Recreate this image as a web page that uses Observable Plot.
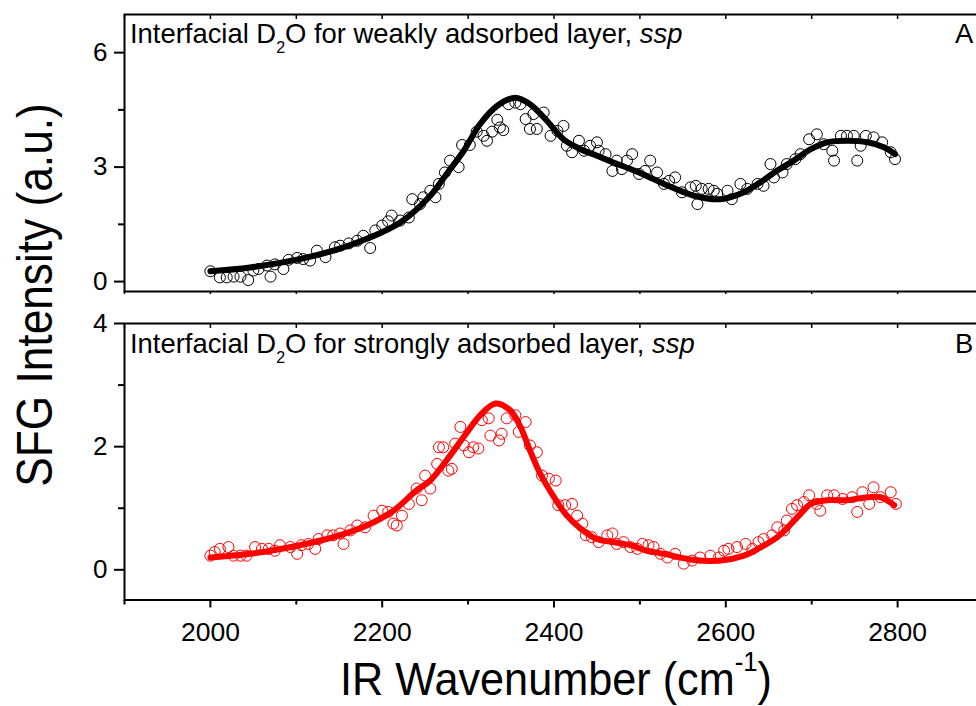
<!DOCTYPE html>
<html><head><meta charset="utf-8">
<script src="https://cdn.jsdelivr.net/npm/d3@7"></script>
<script src="https://cdn.jsdelivr.net/npm/@observablehq/plot@0.6"></script>
<style>
html,body{margin:0;padding:0;background:#fff;overflow:hidden;}
#wrap{position:relative;width:976px;height:706px;overflow:hidden;background:#fff;}
#wrap svg{position:absolute;left:0;max-width:none !important;}
</style></head><body><div id="wrap"></div>
<script>
// ---------- data ----------
const xMajor = [2000, 2200, 2400, 2600, 2800];
const xMinor = [1900, 2100, 2300, 2500, 2700, 2900];
const yTopMajor = [0, 3, 6];
const yTopMinor = [1.5, 4.5];
const yBotMajor = [0, 2, 4];
const yBotMinor = [1, 3];

// Panel A (weakly adsorbed) measured points
const aX = [2000,2011,2019,2027,2035,2044,2050,2056,2066,2070,2075,2085,2091,2101,2108,2116,2124,2134,2145,2151,2161,2171,2178,2186,2192,2200,2207,2211,2221,2231,2235,2244,2248,2256,2262,2266,2273,2279,2289,2293,2302,2310,2318,2322,2328,2334,2337,2341,2347,2355,2361,2367,2372,2376,2380,2388,2396,2404,2411,2415,2421,2429,2435,2442,2450,2452,2460,2468,2473,2479,2485,2491,2499,2506,2512,2520,2528,2534,2541,2549,2559,2565,2567,2572,2580,2586,2590,2602,2607,2617,2625,2637,2644,2652,2656,2666,2671,2681,2687,2697,2706,2714,2724,2726,2734,2741,2749,2753,2757,2763,2772,2782,2792,2797];
const aY = [0.27,0.11,0.11,0.13,0.13,0.04,0.29,0.33,0.42,0.13,0.45,0.33,0.57,0.62,0.59,0.55,0.81,0.64,0.90,0.94,1.00,1.07,1.20,0.88,1.34,1.47,1.58,1.73,1.60,1.68,2.16,2.03,2.21,2.38,2.21,2.56,2.86,3.17,3.00,3.58,3.58,3.93,3.82,3.69,3.93,4.24,4.04,3.97,4.65,4.69,4.65,4.26,4.00,4.39,4.00,4.43,3.82,3.95,4.08,3.56,3.39,3.69,3.43,3.56,3.65,3.43,3.34,2.90,3.17,2.95,3.17,3.34,2.82,2.90,3.17,2.86,2.56,2.64,2.73,2.34,2.47,2.51,2.03,2.43,2.43,2.38,2.30,2.38,2.16,2.56,2.43,2.56,2.51,3.08,2.73,2.86,3.08,3.21,3.34,3.73,3.86,3.60,3.43,3.17,3.82,3.82,3.82,3.17,3.56,3.82,3.78,3.65,3.39,3.21];
// Panel A fit curve
const aFitX = [2000,2046,2104,2143,2182,2221,2256,2275,2295,2314,2334,2355,2372,2392,2411,2431,2450,2469,2489,2508,2528,2563,2594,2621,2640,2660,2679,2699,2718,2741,2765,2784,2797];
const aFitY = [0.27,0.37,0.59,0.81,1.12,1.55,2.25,2.82,3.43,4.13,4.61,4.82,4.65,4.21,3.73,3.47,3.30,3.12,2.95,2.77,2.56,2.25,2.16,2.34,2.60,2.91,3.17,3.47,3.65,3.69,3.65,3.52,3.34];

// Panel B (strongly adsorbed) measured points
const bX = [2000,2005,2011,2021,2027,2035,2042,2052,2060,2068,2075,2081,2093,2101,2106,2114,2122,2126,2136,2143,2151,2155,2163,2171,2180,2190,2200,2207,2213,2217,2223,2231,2240,2246,2250,2256,2264,2266,2271,2277,2281,2285,2291,2295,2301,2306,2312,2316,2324,2326,2336,2339,2345,2355,2359,2367,2372,2380,2386,2394,2402,2405,2413,2421,2427,2433,2437,2444,2452,2462,2468,2473,2481,2489,2497,2503,2510,2516,2524,2532,2541,2551,2561,2570,2582,2592,2598,2603,2613,2623,2631,2638,2644,2654,2660,2668,2671,2677,2683,2691,2697,2706,2710,2718,2726,2736,2747,2753,2759,2767,2772,2780,2792,2798];
const bY = [0.23,0.29,0.34,0.37,0.23,0.23,0.23,0.37,0.34,0.34,0.31,0.40,0.37,0.26,0.40,0.42,0.34,0.50,0.56,0.56,0.59,0.42,0.64,0.72,0.69,0.88,0.96,0.94,0.75,0.72,0.88,1.07,1.32,1.13,1.53,1.32,1.72,1.99,1.99,1.61,1.64,2.05,2.32,2.02,1.91,1.99,1.97,2.43,2.46,2.18,2.10,2.21,2.46,2.51,2.24,2.40,2.02,1.91,1.53,1.48,1.45,1.05,1.05,1.07,0.88,0.75,0.56,0.53,0.45,0.56,0.59,0.42,0.45,0.37,0.34,0.42,0.40,0.37,0.26,0.20,0.26,0.10,0.15,0.20,0.23,0.20,0.31,0.34,0.37,0.42,0.34,0.45,0.50,0.56,0.69,0.64,0.80,0.99,1.05,1.10,1.21,1.07,0.96,1.21,1.21,1.15,1.18,0.94,1.26,1.07,1.34,1.18,1.26,1.07];
// Panel B fit curve
const bFitX = [2000,2046,2104,2143,2182,2213,2240,2256,2275,2295,2314,2332,2349,2361,2372,2384,2400,2415,2431,2450,2469,2489,2508,2528,2563,2594,2621,2640,2660,2671,2687,2699,2718,2741,2765,2780,2796];
const bFitY = [0.20,0.26,0.40,0.53,0.72,0.96,1.29,1.45,1.78,2.16,2.51,2.70,2.59,2.32,1.94,1.56,1.18,0.88,0.67,0.50,0.45,0.40,0.31,0.26,0.16,0.15,0.23,0.36,0.53,0.67,0.91,1.07,1.13,1.13,1.18,1.18,1.05];

// Text
const panelTextA = ["Interfacial D", "2", "O for weakly adsorbed layer, ", "ssp"];
const panelTextB = ["Interfacial D", "2", "O for strongly adsorbed layer, ", "ssp"];
const panelLetters = ["A", "B"];
const yTitle = "SFG Intensity (a.u.)";
const xTitleParts = ["IR Wavenumber (cm", "-1", ")"];

// ---------- build ----------
const zip = (xs, ys) => xs.map((x, i) => ({x, y: ys[i]}));
const font = "'Liberation Sans', Arial, sans-serif";
const fmt = d => String(d);
const wrap = document.getElementById("wrap");

function panel({pts, fit, color, yDomain, yMajor, yMinor, height, marginTop, marginBottom, bottomAxis}) {
  const marks = [
    Plot.axisY({ticks: yMajor, tickSize: 10, tickPadding: 7, tickFormat: fmt, label: null, strokeWidth: 2, fontSize: 26}),
    Plot.axisY({ticks: yMinor, tickSize: 6, text: null, label: null, strokeWidth: 2}),
    Plot.axisX({anchor: "top", ticks: xMajor.concat(xMinor), tickSize: -4, text: null, label: null, strokeWidth: 1.5}),
    Plot.dot(pts, {x: "x", y: "y", r: 5.5, stroke: color, strokeWidth: 1, fill: "none"}),
    Plot.line(fit, {x: "x", y: "y", stroke: color, strokeWidth: 6, curve: "catmull-rom"}),
    Plot.frame({stroke: "black", strokeWidth: 2})
  ];
  if (bottomAxis) {
    marks.push(Plot.axisX({ticks: xMajor, tickSize: 8, tickPadding: 14, tickFormat: fmt, label: null, strokeWidth: 2, fontSize: 26.5}));
    marks.push(Plot.axisX({ticks: xMinor, tickSize: 5, text: null, label: null, strokeWidth: 2}));
  } else {
    marks.push(Plot.axisX({ticks: xMajor.concat(xMinor), tickSize: 3, text: null, label: null, strokeWidth: 1.5}));
  }
  const svg = Plot.plot({
    width: 1000, height, marginTop, marginBottom, marginLeft: 124, marginRight: 17,
    x: {domain: [1900, 2900]},
    y: {domain: yDomain},
    style: {fontFamily: font, fontSize: "25px", color: "black", background: "transparent", overflow: "visible", maxWidth: "none"},
    marks
  });
  svg.style.maxWidth = "none";
  svg.style.width = "1000px";
  svg.style.height = height + "px";
  return svg;
}

const pA = panel({pts: zip(aX, aY), fit: zip(aFitX, aFitY), color: "black", yDomain: [-0.26, 7.0],
  yMajor: yTopMajor, yMinor: yTopMinor, height: 300, marginTop: 14, marginBottom: 9, bottomAxis: false});
pA.style.top = "0px";
wrap.appendChild(pA);

const pB = panel({pts: zip(bX, bY), fit: zip(bFitX, bFitY), color: "#ff0000", yDomain: [-0.49, 4.0],
  yMajor: yBotMajor, yMinor: yBotMinor, height: 406, marginTop: 23, marginBottom: 106.5, bottomAxis: true});
pB.style.top = "300px";
wrap.appendChild(pB);

// overlay text
const ov = d3.select(wrap).append("svg")
  .attr("width", 976).attr("height", 706)
  .style("top", "0px").style("pointer-events", "none")
  .style("font-family", font).style("fill", "black");

function panelLabel(parts, y) {
  const t = ov.append("text").attr("x", 130).attr("y", y).attr("font-size", 27.4);
  t.append("tspan").text(parts[0]);
  t.append("tspan").attr("font-size", 16).attr("dy", 10).text(parts[1]);
  t.append("tspan").attr("dy", -10).text(parts[2]);
  t.append("tspan").attr("font-style", "italic").text(parts[3]);
}
panelLabel(panelTextA, 43);
panelLabel(panelTextB, 353);
ov.append("text").attr("x", 955).attr("y", 43).attr("font-size", 27.4).text(panelLetters[0]);
ov.append("text").attr("x", 955).attr("y", 353).attr("font-size", 27.4).text(panelLetters[1]);

ov.append("text")
  .attr("transform", "translate(52,295) rotate(-90) scale(0.885,1)")
  .attr("text-anchor", "middle").attr("font-size", 50).text(yTitle);

const xt = ov.append("text")
  .attr("transform", "translate(556,695) scale(0.92,1)")
  .attr("text-anchor", "middle").attr("font-size", 47);
xt.append("tspan").text(xTitleParts[0]);
xt.append("tspan").attr("font-size", 28).attr("dy", -24).text(xTitleParts[1]);
xt.append("tspan").attr("dy", 24).text(xTitleParts[2]);
</script></body></html>
